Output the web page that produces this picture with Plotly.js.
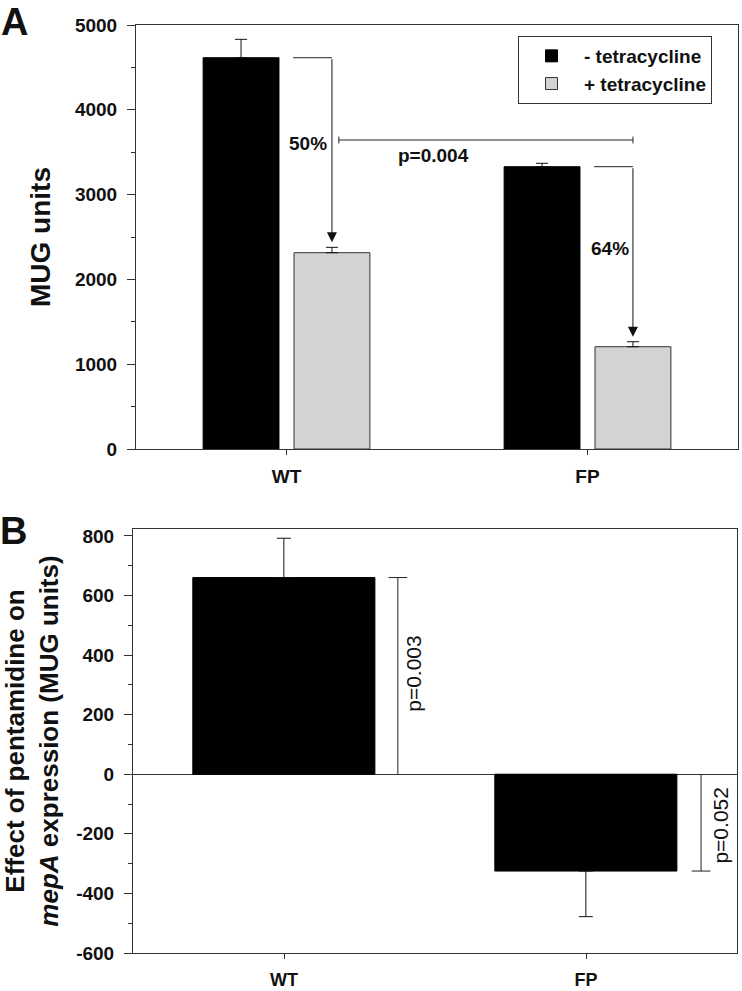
<!DOCTYPE html>
<html>
<head>
<meta charset="utf-8">
<script src="https://cdn.plot.ly/plotly-3.0.1.min.js"></script>
<style>
  html, body { margin: 0; padding: 0; background: #ffffff; }
  #chart { width: 742px; height: 991px; }
</style>
</head>
<body>
<div id="chart"></div>
<script>
// ---------- data ----------
const categories = ['WT', 'FP'];
// Panel A: MUG units
const minusTet = [4614, 3329];
const minusTetErr = [217, 40];
const plusTet = [2315, 1206];
const plusTetErr = [63, 59];
const seriesNames = ['- tetracycline', '+ tetracycline'];
const reductionLabels = ['50%', '64%'];
const pValueA = 'p=0.004';
const yATickVals = [0, 1000, 2000, 3000, 4000, 5000];
const yATickText = ['0', '1000', '2000', '3000', '4000', '5000'];
// Panel B: effect of pentamidine on mepA expression
const effect = [660, -325];
const effectErrUp = [132, 0];
const effectErrDown = [0, 153];
const pValuesB = ['p=0.003', 'p=0.052'];
const yBTickVals = [-600, -400, -200, 0, 200, 400, 600, 800];
const yBTickText = ['-600', '-400', '-200', '0', '200', '400', '600', '800'];

// ---------- styling ----------
const FONT = 'Liberation Sans, Arial, Helvetica, sans-serif';
const AXC = '#333333';
const boldFont = (s) => ({ family: FONT, size: s, color: '#111111', weight: 'bold' });
const regFont = (s) => ({ family: FONT, size: s, color: '#111111' });

const traces = [
  {
    type: 'bar', name: seriesNames[0], x: categories, y: minusTet,
    xaxis: 'x', yaxis: 'y',
    width: 0.252, offset: -0.277,
    marker: { color: '#000000', line: { color: '#000000', width: 1 } },
    error_y: { type: 'data', symmetric: false, array: minusTetErr, arrayminus: [0, 0],
               color: '#111111', thickness: 1, width: 6 }
  },
  {
    type: 'bar', name: seriesNames[1], x: categories, y: plusTet,
    xaxis: 'x', yaxis: 'y',
    width: 0.252, offset: 0.025,
    marker: { color: '#d3d3d3', line: { color: '#333333', width: 1 } },
    error_y: { type: 'data', symmetric: false, array: plusTetErr, arrayminus: [0, 0],
               color: '#111111', thickness: 1, width: 6 }
  },
  {
    type: 'bar', name: 'effect', x: categories, y: effect, showlegend: false,
    xaxis: 'x2', yaxis: 'y2',
    width: 0.603, offset: -0.302,
    marker: { color: '#000000', line: { color: '#000000', width: 1 } },
    error_y: { type: 'data', symmetric: false, array: effectErrUp, arrayminus: effectErrDown,
               color: '#111111', thickness: 1, width: 7 }
  }
];

// ---------- annotation geometry (layout positions) ----------
const grayCenter = 0.151;      // centre of "+" bar relative to category
const hookStart = 0.022;       // start of horizontal hook
const tipGap = 60;             // gap between arrow tip and error cap
const pLineY = 3644, pCap = 40;
const pLineX0 = 0.174, pLineX1 = 1 + grayCenter;

const shapes = [];
const annotations = [];
const lineStyle = { color: '#222222', width: 1 };

for (let i = 0; i < categories.length; i++) {
  shapes.push({ type: 'line', xref: 'x', yref: 'y',
    x0: i + hookStart, x1: i + grayCenter, y0: minusTet[i], y1: minusTet[i], line: lineStyle });
  annotations.push({ xref: 'x', yref: 'y', axref: 'x', ayref: 'y',
    x: i + grayCenter, y: plusTet[i] + plusTetErr[i] + tipGap,
    ax: i + grayCenter, ay: minusTet[i],
    text: '', showarrow: true, arrowhead: 2, arrowsize: 2, arrowwidth: 1,
    arrowcolor: '#111111', standoff: 0, startstandoff: 0 });
}
annotations.push({ xref: 'x', yref: 'y', x: 0.073, y: 3608, text: reductionLabels[0],
  showarrow: false, font: boldFont(19) });
annotations.push({ xref: 'x', yref: 'y', x: 1.075, y: 2370, text: reductionLabels[1],
  showarrow: false, font: boldFont(19) });

// p-value line panel A
shapes.push({ type: 'line', xref: 'x', yref: 'y', x0: pLineX0, x1: pLineX1, y0: pLineY, y1: pLineY, line: lineStyle });
shapes.push({ type: 'line', xref: 'x', yref: 'y', x0: pLineX0, x1: pLineX0, y0: pLineY - pCap, y1: pLineY + pCap, line: lineStyle });
shapes.push({ type: 'line', xref: 'x', yref: 'y', x0: pLineX1, x1: pLineX1, y0: pLineY - pCap, y1: pLineY + pCap, line: lineStyle });
annotations.push({ xref: 'x', yref: 'y', x: 0.487, y: 3467, text: pValueA,
  showarrow: false, font: boldFont(19) });

// Panel B brackets
const bracketX = [0.377, 1.381];
const capHalf = 0.031;
for (let i = 0; i < categories.length; i++) {
  shapes.push({ type: 'line', xref: 'x2', yref: 'y2',
    x0: bracketX[i], x1: bracketX[i], y0: 0, y1: effect[i], line: lineStyle });
  shapes.push({ type: 'line', xref: 'x2', yref: 'y2',
    x0: bracketX[i] - capHalf, x1: bracketX[i] + capHalf, y0: effect[i], y1: effect[i], line: lineStyle });
}
annotations.push({ xref: 'x2', yref: 'y2', x: 0.43, y: 340, text: pValuesB[0],
  textangle: -90, showarrow: false, font: regFont(21) });
annotations.push({ xref: 'x2', yref: 'y2', x: 1.446, y: -170, text: pValuesB[1],
  textangle: -90, showarrow: false, font: regFont(21) });

// Panel letters
annotations.push({ xref: 'paper', yref: 'paper', x: 14 / 742, y: 1, text: 'A',
  showarrow: false, xanchor: 'center', yanchor: 'top', borderpad: 0, font: boldFont(38) });
annotations.push({ xref: 'paper', yref: 'paper', x: 13 / 742, y: 1 - 531 / 991, text: 'B',
  showarrow: false, xanchor: 'center', yanchor: 'middle', font: boldFont(38) });

const xCommon = {
  type: 'category', range: [-0.5, 1.5], showgrid: false, zeroline: false,
  ticks: 'outside', ticklen: 5, tickwidth: 1, tickcolor: AXC,
  showline: true, linecolor: AXC, linewidth: 1, mirror: true,
  tickfont: boldFont(19), automargin: false, fixedrange: true
};
const yCommon = {
  showgrid: false, ticks: 'outside', ticklen: 8, tickwidth: 1, tickcolor: AXC,
  showline: true, linecolor: AXC, linewidth: 1, mirror: true,
  tickfont: boldFont(19), automargin: false, fixedrange: true, ticklabelstandoff: 6
};

const layout = {
  width: 742, height: 991,
  margin: { l: 0, r: 0, t: 0, b: 0 },
  paper_bgcolor: '#ffffff', plot_bgcolor: '#ffffff',
  font: { family: FONT, color: '#111111' },
  showlegend: true,
  legend: {
    x: 518 / 742, y: 1 - 36 / 991, xanchor: 'left', yanchor: 'top',
    bgcolor: '#ffffff', bordercolor: AXC, borderwidth: 1,
    font: boldFont(19), itemwidth: 55, traceorder: 'normal', tracegroupgap: 0
  },
  xaxis: Object.assign({}, xCommon, { domain: [136 / 742, 738 / 742], anchor: 'y', ticklabelstandoff: 5 }),
  yaxis: Object.assign({}, yCommon, {
    domain: [1 - 449 / 991, 1 - 25 / 991], anchor: 'x',
    range: [0, 5000], tickmode: 'array', tickvals: yATickVals, ticktext: yATickText, zeroline: false,
    minor: { tickmode: 'linear', tick0: 0, dtick: 500, ticks: 'outside', ticklen: 4, tickcolor: AXC, showgrid: false },
    title: { text: 'MUG units', font: boldFont(28), standoff: 16 }
  }),
  xaxis2: Object.assign({}, xCommon, { domain: [133 / 742, 737 / 742], anchor: 'y2', ticklabelstandoff: 5,
    tickfont: boldFont(18) }),
  yaxis2: Object.assign({}, yCommon, {
    domain: [1 - 953 / 991, 1 - 529 / 991], anchor: 'x2',
    range: [-600, 823], tickmode: 'array', tickvals: yBTickVals, ticktext: yBTickText,
    zeroline: true, zerolinecolor: AXC, zerolinewidth: 1,
    minor: { tickmode: 'linear', tick0: 0, dtick: 100, ticks: 'outside', ticklen: 4, tickcolor: AXC, showgrid: false },
    title: { text: 'Effect of pentamidine on<br><i>mepA</i> expression (MUG units)', font: boldFont(26), standoff: 14 }
  }),
  shapes: shapes,
  annotations: annotations
};

Plotly.newPlot('chart', traces, layout, { staticPlot: true, displayModeBar: false });
</script>
</body>
</html>
